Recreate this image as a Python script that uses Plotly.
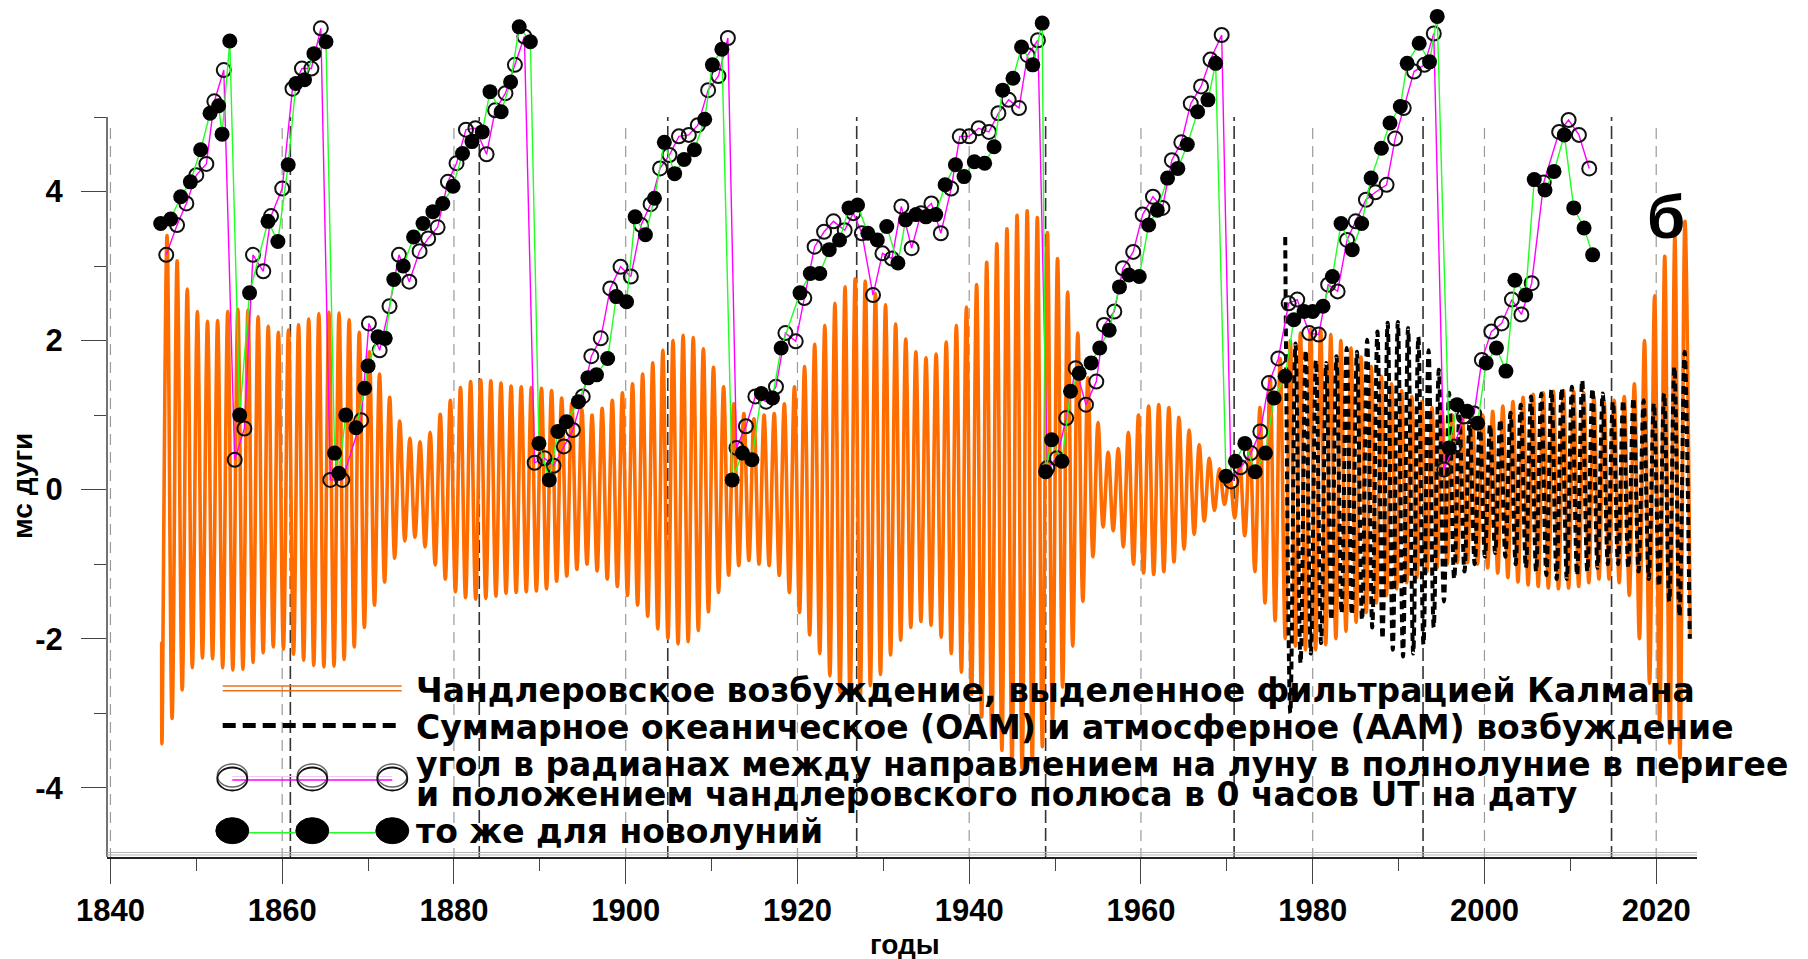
import plotly.graph_objects as go

# ---------------- data ----------------
# Filtered Chandler excitation: one amplitude per Chandler cycle (trough k, then peak k)
chandler_t0 = 1846.0
chandler_period = 1.1784
chandler_amp = [
    3.41, 3.07, 2.69, 2.39, 2.26, 2.27, 2.39, 2.42, 2.41, 2.32,
    2.19, 2.11, 2.14, 2.21, 2.29, 2.36, 2.38, 2.37, 2.28, 2.11,
    1.85, 1.55, 1.24, 0.92, 0.69, 0.64, 0.77, 1.01, 1.20, 1.37,
    1.45, 1.47, 1.46, 1.43, 1.39, 1.38, 1.37, 1.36, 1.33, 1.23,
    1.16, 1.07, 1.00, 1.09, 1.20, 1.30, 1.42, 1.55, 1.70, 1.87,
    2.00, 2.07, 2.04, 1.89, 1.64, 1.38, 1.15, 1.02, 0.95, 1.00,
    1.02, 1.15, 1.38, 1.65, 1.95, 2.20, 2.50, 2.72, 2.83, 2.80,
    2.63, 2.48, 2.22, 2.02, 1.85, 1.77, 1.82, 1.98, 2.20, 2.45,
    2.75, 3.05, 3.30, 3.50, 3.68, 3.74, 3.65, 3.45, 3.10, 2.65,
    2.10, 1.50, 0.90, 0.50, 0.55, 0.77, 1.00, 1.12, 1.14, 1.10,
    0.97, 0.80, 0.60, 0.42, 0.28, 0.20, 0.38, 0.62, 1.10, 1.52,
    1.76, 2.00, 2.10, 2.15, 2.15, 2.08, 2.00, 1.90, 1.78, 1.65,
    1.52, 1.42, 1.33, 1.25, 1.18, 1.10, 1.05, 1.00, 0.98, 0.98,
    1.00, 1.05, 1.12, 1.18, 1.24, 1.28, 1.30, 1.32, 1.33, 1.32,
    1.30, 1.25, 1.20, 1.20, 1.25, 1.42, 2.00, 2.60, 3.13, 3.40, 3.60,
]
chandler_first = (1845.97, -2.04)
chandler_last = (2023.97, -2.00)

# Oceanic + atmospheric excitation (OAM + AAM): peak / trough per cycle
oam_t0 = 1976.8
oam_period = 1.1925
oam_top = [
    3.39, 1.96, 1.87, 1.74, 1.70, 1.79, 1.90, 1.85, 2.01, 2.12,
    2.24, 2.25, 2.17, 2.05, 1.87, 1.61, 1.30, 0.98, 0.89, 0.89,
    0.87, 0.94, 1.03, 1.14, 1.25, 1.29, 1.34, 1.36, 1.38, 1.47,
    1.36, 1.29, 1.18, 1.20, 1.23, 1.20, 1.16, 1.29, 1.65, 1.85,
]
oam_bottom = [
    -3.00, -2.33, -2.20, -2.06, -1.75, -1.66, -1.68, -1.75, -1.85, -2.00,
    -2.15, -2.24, -2.20, -2.08, -1.85, -1.50, -1.20, -1.10, -1.00, -0.90,
    -0.85, -0.90, -1.00, -1.05, -1.10, -1.15, -1.20, -1.20, -1.15, -1.10,
    -1.05, -1.00, -1.00, -1.05, -1.10, -1.20, -1.30, -1.50, -1.70, -2.00,
]

# angle (rad) for perigee full moons (open circles)
full_years = [
    1846.5, 1847.76, 1848.84, 1850.0, 1851.17, 1852.1, 1853.2, 1854.47, 1855.6, 1856.6,
    1857.8, 1858.7, 1860.0, 1861.2, 1862.3, 1863.4, 1864.5, 1865.6, 1867.0, 1869.2,
    1870.1, 1871.35, 1872.5, 1873.6, 1874.8, 1876.0, 1877.0, 1878.1, 1879.3, 1880.3,
    1881.4, 1882.5, 1883.8, 1884.8, 1886.0, 1887.1, 1888.2, 1889.4, 1890.55, 1891.6,
    1892.8, 1893.85, 1895.0, 1896.0, 1897.1, 1898.2, 1899.4, 1900.6, 1901.8, 1902.9,
    1904.0, 1905.1, 1906.2, 1907.35, 1908.4, 1909.6, 1910.8, 1911.9, 1912.9, 1914.0,
    1915.1, 1916.35, 1917.5, 1918.6, 1919.8, 1920.8, 1922.0, 1923.1, 1924.2, 1925.5,
    1926.5, 1927.5, 1928.8, 1929.9, 1931.0, 1932.1, 1933.3, 1934.4, 1935.6, 1936.7,
    1937.9, 1938.9, 1940.0, 1941.1, 1942.3, 1943.4, 1944.6, 1945.8, 1946.8, 1948.0,
    1949.1, 1950.2, 1951.3, 1952.4, 1953.6, 1954.8, 1955.7, 1956.9, 1957.9, 1959.1,
    1960.2, 1961.4, 1962.5, 1963.6, 1964.7, 1965.8, 1967.0, 1968.1, 1969.4, 1970.5,
    1971.6, 1972.8, 1973.9, 1974.9, 1976.0, 1977.2, 1978.2, 1979.6, 1980.7, 1981.8,
    1982.9, 1984.0, 1985.0, 1986.2, 1987.3, 1988.6, 1989.6, 1990.6, 1991.8, 1993.0,
    1994.1, 1995.3, 1996.45, 1997.6, 1998.8, 1999.7, 2000.8, 2002.0, 2003.2, 2004.3,
    2005.5, 2006.9, 2008.7, 2009.8, 2011.0, 2012.2,
]
full_vals = [
    3.15, 3.55, 3.84, 4.22, 4.37, 5.21, 5.63, 0.40, 0.82, 3.15,
    2.93, 3.67, 4.04, 5.38, 5.65, 5.65, 6.19, 0.13, 0.13, 0.93,
    2.23, 1.87, 2.46, 3.15, 2.79, 3.20, 3.37, 3.52, 4.13, 4.38,
    4.83, 4.85, 4.50, 5.09, 5.32, 5.70, 6.08, 0.36, 0.42, 0.32,
    0.58, 0.80, 1.25, 1.79, 2.03, 2.70, 2.99, 2.86, 3.55, 3.83,
    4.31, 4.49, 4.74, 4.76, 4.89, 5.36, 5.55, 6.06, 0.56, 0.85,
    1.25, 1.18, 1.38, 2.10, 1.99, 2.57, 3.26, 3.46, 3.60, 3.48,
    3.71, 3.44, 2.61, 3.17, 3.10, 3.80, 3.24, 3.71, 3.84, 3.44,
    4.04, 4.74, 4.74, 4.85, 4.80, 5.05, 5.23, 5.12, 5.83, 6.03,
    0.29, 0.42, 0.96, 1.63, 1.14, 1.45, 2.21, 2.39, 2.97, 3.19,
    3.69, 3.93, 3.78, 4.42, 4.66, 5.18, 5.41, 5.77, 6.10, 0.11,
    0.30, 0.49, 0.78, 1.43, 1.76, 2.50, 2.55, 2.10, 2.08, 2.75,
    2.66, 3.35, 3.60, 3.89, 3.99, 4.09, 4.71, 5.12, 5.61, 5.70,
    6.12, 0.27, 0.58, 0.98, 1.02, 1.74, 2.12, 2.23, 2.55, 2.35,
    2.77, 4.12, 4.80, 4.96, 4.76, 4.31,
]

# same angle for new moons (filled circles)
new_years = [
    1845.85, 1847.02, 1848.18, 1849.31, 1850.51, 1851.6, 1852.6, 1853.0, 1853.9, 1855.05,
    1856.2, 1858.35, 1859.5, 1860.7, 1861.6, 1862.6, 1863.7, 1865.1, 1866.1, 1866.6,
    1867.4, 1868.6, 1869.6, 1870.0, 1871.15, 1872.0, 1873.0, 1874.1, 1875.3, 1876.4,
    1877.55, 1878.7, 1879.9, 1881.0, 1882.1, 1883.3, 1884.2, 1885.5, 1886.6, 1887.6,
    1888.9, 1889.9, 1891.1, 1892.1, 1893.1, 1894.5, 1895.6, 1896.6, 1897.9, 1898.9,
    1900.1, 1901.1, 1902.3, 1903.35, 1904.5, 1905.7, 1906.8, 1908.0, 1909.2, 1910.1,
    1911.2, 1912.4, 1913.6, 1914.7, 1915.8, 1917.1, 1918.1, 1920.3, 1921.5, 1922.6,
    1923.7, 1924.9, 1926.0, 1927.0, 1928.2, 1929.3, 1930.4, 1931.7, 1932.6, 1933.8,
    1934.96, 1936.1, 1937.2, 1938.4, 1939.4, 1940.6, 1941.8, 1942.9, 1943.9, 1945.1,
    1946.1, 1947.4, 1948.5, 1948.9, 1949.6, 1950.8, 1951.8, 1952.8, 1954.2, 1955.2,
    1956.3, 1957.5, 1958.6, 1959.8, 1960.9, 1961.9, 1963.1, 1964.3, 1965.4, 1966.6,
    1967.8, 1968.7, 1969.9, 1971.0, 1972.1, 1973.3, 1974.5, 1975.5, 1976.8, 1977.8,
    1979.0, 1980.0, 1981.2, 1982.3, 1983.3, 1984.6, 1985.7, 1986.8, 1988.0, 1989.0,
    1990.2, 1991.0, 1992.4, 1993.6, 1994.5, 1995.9, 1996.8, 1998.0, 1999.2, 2000.2,
    2001.4, 2002.5, 2003.55, 2004.8, 2005.8, 2007.05, 2008.1, 2009.3, 2010.4, 2011.6,
    2012.6,
]
new_vals = [
    3.57, 3.63, 3.93, 4.13, 4.56, 5.05, 5.15, 4.77, 6.02, 1.00,
    2.64, 3.60, 3.33, 4.36, 5.45, 5.50, 5.85, 6.01, 0.49, 0.22,
    1.00, 0.83, 1.36, 1.66, 2.05, 2.03, 2.82, 3.00, 3.39, 3.57,
    3.73, 3.84, 4.07, 4.51, 4.67, 4.80, 5.34, 5.07, 5.47, 6.21,
    6.01, 0.62, 0.13, 0.78, 0.91, 1.18, 1.50, 1.54, 1.76, 2.59,
    2.52, 3.66, 3.42, 3.91, 4.66, 4.24, 4.43, 4.56, 4.97, 5.70,
    5.91, 0.13, 0.49, 0.40, 1.29, 1.23, 1.90, 2.64, 2.90, 2.90,
    3.22, 3.35, 3.78, 3.82, 3.44, 3.35, 3.53, 3.04, 3.62, 3.69,
    3.66, 3.69, 4.09, 4.36, 4.20, 4.40, 4.38, 4.60, 5.36, 5.52,
    5.94, 5.70, 6.26, 0.24, 0.67, 0.38, 1.32, 1.56, 1.70, 1.90,
    2.14, 2.72, 2.88, 2.86, 3.55, 3.75, 4.18, 4.31, 4.63, 5.07,
    5.23, 5.72, 0.18, 0.38, 0.62, 0.24, 0.49, 1.23, 1.52, 2.28,
    2.39, 2.39, 2.46, 2.86, 3.57, 3.22, 3.57, 4.18, 4.58, 4.92,
    5.14, 5.72, 5.99, 5.74, 6.35, 0.56, 1.14, 1.05, 0.89, 1.70,
    1.90, 1.59, 2.81, 2.61, 4.16, 4.02, 4.27, 4.76, 3.78, 3.51,
    3.15,
]

x_tick_vals = [1840, 1860, 1880, 1900, 1920, 1940, 1960, 1980, 2000, 2020]
x_minor_vals = [1850, 1870, 1890, 1910, 1930, 1950, 1970, 1990, 2010]
y_tick_vals = [-4, -2, 0, 2, 4]
y_tick_text = ["-4", "-2", "0", "2", "4"]
y_minor_vals = [-3, -1, 1, 3, 5]
grey_line_years = [1840, 1860, 1880, 1900, 1920, 1940, 1960, 1980, 2000, 2020]
black_line_years = [1860.95, 1882.95, 1904.9, 1926.9, 1948.9, 1970.85, 1992.85, 2014.8]

legend_texts = [
    "Чандлеровское возбуждение, выделенное фильтрацией Калмана",
    "Суммарное океаническое (OAM) и атмосферное (AAM) возбуждение",
    "угол в радианах между направлением на луну в полнолуние в перигее",
    "и положением чандлеровского полюса в 0 часов UT на дату",
    "то же для новолуний",
]

# ---------------- build series ----------------
ch_x = [chandler_first[0]]
ch_y = [chandler_first[1]]
for k, a in enumerate(chandler_amp):
    ch_x += [chandler_t0 + k * chandler_period, chandler_t0 + (k + 0.5) * chandler_period]
    ch_y += [-a, a]
ch_x.append(chandler_last[0])
ch_y.append(chandler_last[1])

oam_x, oam_y = [], []
for k, (tp, bt) in enumerate(zip(oam_top, oam_bottom)):
    oam_x += [oam_t0 + k * oam_period, oam_t0 + (k + 0.5) * oam_period]
    oam_y += [tp, bt]

# ---------------- layout geometry ----------------
W, H = 1808, 959
ML, MR, MT, MB = 107, 111, 0, 102
PW, PH = W - ML - MR, H - MT - MB


def px(x):
    return (x - ML) / PW


def py(y):
    return (MT + PH - y) / PH


fig = go.Figure()

fig.add_trace(go.Scatter(
    x=ch_x, y=ch_y, mode="lines",
    line=dict(color="#ff6c00", width=3.6, shape="spline", smoothing=1.0),
    hoverinfo="skip", showlegend=False))

fig.add_trace(go.Scatter(
    x=oam_x, y=oam_y, mode="lines",
    line=dict(color="#000000", width=4, dash="8px,5px", shape="spline", smoothing=1.0),
    hoverinfo="skip", showlegend=False))

fig.add_trace(go.Scatter(
    x=full_years, y=full_vals, mode="lines+markers",
    line=dict(color="#ff00ff", width=1.4),
    marker=dict(symbol="circle-open", size=14, color="#111111", line=dict(width=2)),
    hoverinfo="skip", showlegend=False))

fig.add_trace(go.Scatter(
    x=new_years, y=new_vals, mode="lines+markers",
    line=dict(color="#22ff22", width=1.4),
    marker=dict(symbol="circle", size=15, color="#000000"),
    hoverinfo="skip", showlegend=False))

shapes = []
for yr in grey_line_years:
    shapes.append(dict(type="line", xref="x", yref="y", x0=yr, x1=yr, y0=-5.2, y1=4.9,
                       line=dict(color="#9a9a9a", width=1.2, dash="11px,7px"), layer="below"))
for yr in black_line_years:
    shapes.append(dict(type="line", xref="x", yref="y", x0=yr, x1=yr, y0=-5.2, y1=5.0,
                       line=dict(color="#333333", width=1.6, dash="13px,5px"), layer="below"))
# y axis line (only from -5 to 5)
shapes.append(dict(type="line", xref="paper", yref="y", x0=0, x1=0, y0=-5.2, y1=5.0,
                   line=dict(color="#444444", width=1.5)))
# double grey rule above the x axis
for yy in (852.5, 855.0):
    shapes.append(dict(type="line", xref="paper", yref="paper", x0=0, x1=1,
                       y0=py(yy), y1=py(yy), line=dict(color="#b5b5b5", width=1.2)))

# ---- hand-drawn legend samples ----
lx0, lx1 = 222.7, 401.7
for yy in (686.0, 690.7):
    shapes.append(dict(type="line", xref="paper", yref="paper", x0=px(lx0), x1=px(lx1),
                       y0=py(yy), y1=py(yy), line=dict(color="#e8701f", width=1.6)))
shapes.append(dict(type="line", xref="paper", yref="paper", x0=px(lx0), x1=px(lx1),
                   y0=py(725.5), y1=py(725.5), line=dict(color="#000000", width=5, dash="13px,7px")))
shapes.append(dict(type="line", xref="paper", yref="paper", x0=px(232.3), x1=px(392.3),
                   y0=py(776.5), y1=py(776.5), line=dict(color="#f4c8f4", width=1.2)))
shapes.append(dict(type="line", xref="paper", yref="paper", x0=px(232.3), x1=px(392.3),
                   y0=py(780), y1=py(780), line=dict(color="#ff00ff", width=1.6)))
shapes.append(dict(type="line", xref="paper", yref="paper", x0=px(232.3), x1=px(392.3),
                   y0=py(832.7), y1=py(832.7), line=dict(color="#22ff22", width=1.6)))
for cx in (232.3, 312.3, 392.3):
    shapes.append(dict(type="circle", xref="paper", yref="paper",
                       x0=px(cx - 15), x1=px(cx + 15), y0=py(775.5 + 11.5), y1=py(775.5 - 11.5),
                       line=dict(color="#666666", width=1.4)))
    shapes.append(dict(type="circle", xref="paper", yref="paper",
                       x0=px(cx - 15), x1=px(cx + 15), y0=py(779.0 + 11.5), y1=py(779.0 - 11.5),
                       line=dict(color="#111111", width=1.8)))
    shapes.append(dict(type="circle", xref="paper", yref="paper",
                       x0=px(cx - 16.5), x1=px(cx + 16.5), y0=py(830.7 + 13), y1=py(830.7 - 13),
                       line=dict(color="#000000", width=1), fillcolor="#000000"))

annotations = []
legend_font = dict(family="DejaVu Sans", size=33, color="#000000", weight="bold")
for txt, yy in zip(legend_texts, (690, 727, 764, 794, 831)):
    annotations.append(dict(text=txt, xref="paper", yref="paper", x=px(414), y=py(yy),
                            xanchor="left", yanchor="middle", showarrow=False, font=legend_font))
annotations.append(dict(text="б", xref="paper", yref="paper", x=px(1666), y=py(216),
                        xanchor="center", yanchor="middle", showarrow=False,
                        font=dict(family="Liberation Sans", size=62, color="#000000", weight="bold")))
annotations.append(dict(text="мс дуги", xref="paper", yref="paper", x=px(22), y=py(486),
                        xanchor="center", yanchor="middle", textangle=-90, showarrow=False,
                        font=dict(family="Liberation Sans", size=28, color="#000000", weight="bold")))
annotations.append(dict(text="годы", xref="paper", yref="paper", x=px(905), y=py(944),
                        xanchor="center", yanchor="middle", showarrow=False,
                        font=dict(family="Liberation Sans", size=28, color="#000000", weight="bold")))

tick_font = dict(family="Liberation Sans", size=31, color="#000000", weight="bold")

fig.update_layout(
    width=W, height=H,
    margin=dict(l=ML, r=MR, t=MT, b=MB),
    paper_bgcolor="white", plot_bgcolor="white",
    showlegend=False,
    shapes=shapes, annotations=annotations,
    xaxis=dict(range=[1839.6, 2024.75], showgrid=False, zeroline=False,
               showline=True, linecolor="#222222", linewidth=1.6,
               tickmode="array", tickvals=x_tick_vals, ticks="outside", ticklen=25,
               tickcolor="#444444", tickwidth=1, ticklabelstandoff=0,
               tickfont=tick_font,
               minor=dict(tickmode="array", tickvals=x_minor_vals, ticks="outside",
                          ticklen=12, tickcolor="#444444", tickwidth=1)),
    yaxis=dict(range=[-4.93, 6.57], showgrid=False, zeroline=False, showline=False,
               tickmode="array", tickvals=y_tick_vals, ticktext=y_tick_text,
               ticks="outside", ticklen=25, tickcolor="#444444", tickwidth=1,
               ticklabelstandoff=12,
               tickfont=dict(family="Liberation Sans", size=31, color="#000000", weight="bold"),
               minor=dict(tickmode="array", tickvals=y_minor_vals, ticks="outside",
                          ticklen=12, tickcolor="#444444", tickwidth=1)),
)

fig.write_html("out.html")
